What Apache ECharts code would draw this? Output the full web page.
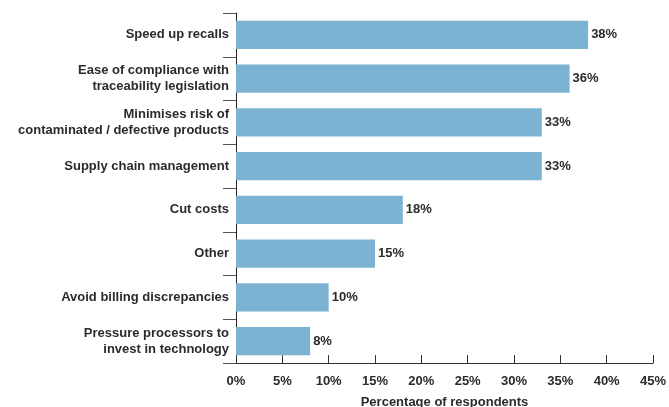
<!DOCTYPE html>
<html>
<head>
<meta charset="utf-8">
<script src="https://cdn.jsdelivr.net/npm/echarts@6/dist/echarts.min.js"></script>
<style>
  html, body { margin: 0; padding: 0; background: #fff; }
  #chart { width: 669px; height: 407px; }
</style>
</head>
<body>
<div id="chart"></div>
<script>
// Reasons for adopting traceability, share of respondents (%)
const categories = [
  'Speed up recalls',
  'Ease of compliance with\ntraceability legislation',
  'Minimises risk of\ncontaminated / defective products',
  'Supply chain management',
  'Cut costs',
  'Other',
  'Avoid billing discrepancies',
  'Pressure processors to\ninvest in technology'
];
const values = [38, 36, 33, 33, 18, 15, 10, 8];
const xTicks = [0, 5, 10, 15, 20, 25, 30, 35, 40, 45];
const axisTitle = 'Percentage of respondents';

const FONT = '"Liberation Sans", Arial, Helvetica, sans-serif';
const TEXT = '#2b2b2b';

const chart = echarts.init(document.getElementById('chart'), null, { renderer: 'canvas' });
chart.setOption({
  animation: false,
  grid: {
    left: 236, top: 13, right: 16, bottom: 44,
    containLabel: false,
    outerBoundsMode: 'none'   // keep the plot box fixed; the axis title may touch the edge
  },
  xAxis: {
    type: 'value',
    min: xTicks[0],
    max: xTicks[xTicks.length - 1],
    interval: xTicks[1] - xTicks[0],
    name: axisTitle,
    nameLocation: 'middle',
    nameGap: 33,
    nameTextStyle: { fontFamily: FONT, fontWeight: 'bold', fontSize: 13, color: TEXT },
    axisLine: { show: true, lineStyle: { color: '#333', width: 1 } },
    axisTick: { show: true, inside: true, length: 8, lineStyle: { color: '#333' } },
    splitLine: { show: false },
    axisLabel: {
      margin: 12,
      fontFamily: FONT, fontWeight: 'bold', fontSize: 13, color: TEXT,
      formatter: v => v + '%'
    }
  },
  yAxis: {
    type: 'category',
    data: categories,
    inverse: true,
    axisLine: { show: true, lineStyle: { color: '#222', width: 1 } },
    axisTick: { show: true, inside: false, length: 13, alignWithLabel: false, lineStyle: { color: '#555' } },
    axisLabel: {
      margin: 7,
      fontFamily: FONT, fontWeight: 'bold', fontSize: 13, color: TEXT,
      lineHeight: 16, align: 'right'
    }
  },
  series: [{
    type: 'bar',
    data: values,
    barCategoryGap: '35%',
    itemStyle: { color: '#7db3d2' },
    label: {
      show: true,
      position: 'right',
      distance: 3,
      fontFamily: FONT, fontWeight: 'bold', fontSize: 13, color: TEXT,
      formatter: p => p.value + '%'
    }
  }]
});
</script>
</body>
</html>
